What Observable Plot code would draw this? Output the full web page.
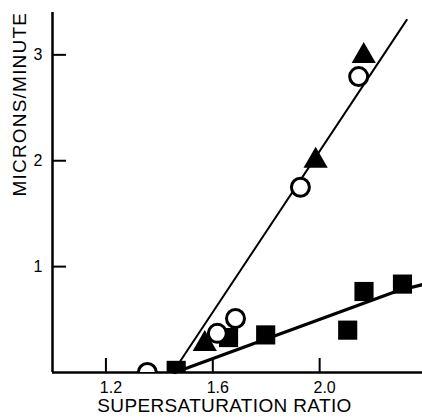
<!DOCTYPE html>
<html>
<head>
<meta charset="utf-8">
<script src="https://cdn.jsdelivr.net/npm/d3@7"></script>
<script src="https://cdn.jsdelivr.net/npm/@observablehq/plot@0.6"></script>
<style>
  html, body { margin: 0; padding: 0; background: #fff; }
</style>
</head>
<body>
<script>
// Tick values
const xTicks = [1.2, 1.6, 2.0];
const yTicks = [1, 2, 3];
const xTitle = "SUPERSATURATION RATIO";
const yTitle = "MICRONS/MINUTE";

// Filled triangles
const triX = [1.57, 1.985, 2.165];
const triY = [0.27, 2.0, 2.99];
// Open circles
const circX = [1.355, 1.617, 1.685, 1.928, 2.146];
const circY = [0.0, 0.37, 0.51, 1.75, 2.795];
// Filled squares
const sqX = [1.463, 1.659, 1.798, 2.105, 2.166, 2.31];
const sqY = [0.02, 0.33, 0.355, 0.40, 0.765, 0.835];
// Fitted lines
const fitAX = [1.45, 2.326];
const fitAY = [0.0, 3.33];
const fitBX = [1.458, 2.29, 2.385];
const fitBY = [0.0, 0.77, 0.83];

const zip = (xs, ys) => xs.map((x, i) => ({x, y: ys[i]}));

const chart = Plot.plot({
  width: 422,
  height: 420,
  marginLeft: 52,
  marginRight: 0,
  marginTop: 12,
  marginBottom: 48,
  style: {fontFamily: "'Liberation Sans', Arial, sans-serif", color: "#000", background: "#fff"},
  x: {domain: [1.0, 2.385], axis: null},
  y: {domain: [0, 3.4], axis: null},
  marks: [
    Plot.ruleX([1.0], {stroke: "#000", strokeWidth: 2.5}),
    Plot.ruleY([0], {stroke: "#000", strokeWidth: 2.5}),
    Plot.tickX(xTicks, {x: d => d, stroke: "#000", strokeWidth: 2, insetTop: 346}),
    Plot.tickY(yTicks, {y: d => d, stroke: "#000", strokeWidth: 2, insetRight: 356}),
    Plot.text(xTicks, {x: d => d, frameAnchor: "bottom", dy: 20, dx: 5, text: d => d.toFixed(1), fontSize: 16, fill: "#000"}),
    Plot.text(yTicks, {y: d => d, frameAnchor: "left", dx: -10, textAnchor: "end", text: d => String(d), fontSize: 16, fill: "#000"}),
    Plot.text([xTitle], {frameAnchor: "bottom", dy: 39, dx: -13, text: d => d, fontSize: 19, fill: "#000"}),
    Plot.text([yTitle], {frameAnchor: "left", dx: -33, dy: 4, rotate: -90, text: d => d, fontSize: 19, fill: "#000"}),
    Plot.line(zip(fitAX, fitAY), {x: "x", y: "y", stroke: "#000", strokeWidth: 2}),
    Plot.line(zip(fitBX, fitBY), {x: "x", y: "y", stroke: "#000", strokeWidth: 3.2}),
    Plot.dot(zip(triX, triY), {x: "x", y: "y", symbol: "triangle", r: 9, fill: "#000", stroke: "none", clip: true}),
    Plot.dot(zip(sqX, sqY), {x: "x", y: "y", symbol: "square", r: 10.8, fill: "#000", stroke: "none", clip: true}),
    Plot.dot(zip(circX, circY), {x: "x", y: "y", symbol: "circle", r: 9, fill: "#fff", stroke: "#000", strokeWidth: 3, clip: true})
  ]
});
document.body.append(chart);
d3.select(chart).selectAll("text")
  .filter(function() { return this.textContent === xTitle; })
  .style("letter-spacing", "0.35px");
d3.select(chart).selectAll("text")
  .filter(function() { return this.textContent === yTitle; })
  .style("letter-spacing", "1.2px");
</script>
</body>
</html>
